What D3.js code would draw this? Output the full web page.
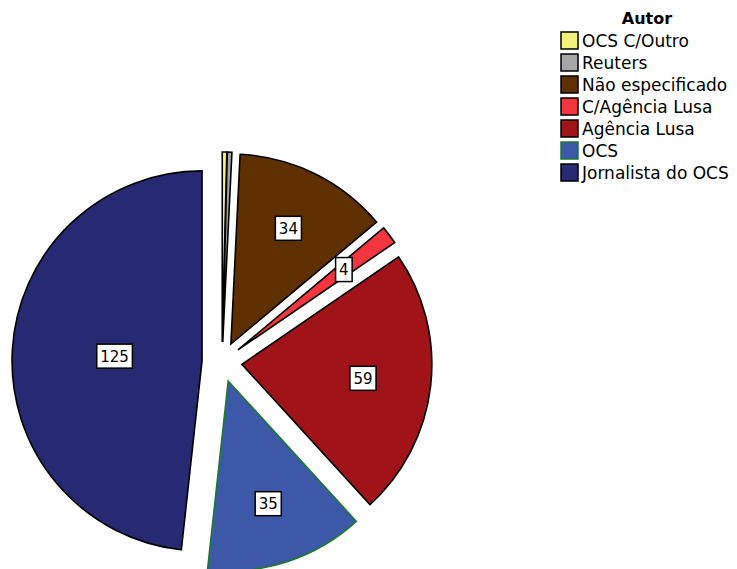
<!DOCTYPE html>
<html>
<head>
<meta charset="utf-8">
<script src="https://cdn.jsdelivr.net/npm/d3@7"></script>
<style>
  html, body { margin: 0; padding: 0; background: #fff; }
  svg { display: block; }
</style>
</head>
<body>
<svg id="chart" width="737" height="569"></svg>
<script>
const categories = ["OCS C/Outro", "Reuters", "Não especificado", "C/Agência Lusa", "Agência Lusa", "OCS", "Jornalista do OCS"];
const values = [1, 1, 34, 4, 59, 35, 125];
const showLabel = [false, false, true, true, true, true, true];
const fillColors = ["#f4f07e", "#a6a6a6", "#5e3000", "#f2353f", "#a01419", "#3e58a9", "#272a72"];
const strokeColors = ["#000", "#000", "#000", "#000", "#000", "#1d7a2a", "#000"];
const legendTitle = "Autor";

const svg = d3.select("#chart");
const cx = 222, cy = 362, R = 190, explode = 20;

const data = categories.map((c, i) => ({ name: c, value: values[i], i }));
const pie = d3.pie().value(d => d.value).sort(null).startAngle(0).endAngle(2 * Math.PI);
const arcs = pie(data);
const arc = d3.arc().innerRadius(0).outerRadius(R);

const g = svg.append("g").attr("transform", `translate(${cx},${cy})`);

const slices = g.selectAll("g.slice").data(arcs).enter().append("g")
  .attr("class", "slice")
  .attr("transform", d => {
    const m = (d.startAngle + d.endAngle) / 2;
    return `translate(${explode * Math.sin(m)},${-explode * Math.cos(m)})`;
  });

slices.append("path")
  .attr("d", arc)
  .attr("fill", d => fillColors[d.data.i])
  .attr("stroke", d => strokeColors[d.data.i])
  .attr("stroke-width", 1.6)
  .attr("stroke-linejoin", "miter");

// labels at the slice centroid
const labelG = slices.filter(d => showLabel[d.data.i]).append("g")
  .attr("transform", d => {
    const m = (d.startAngle + d.endAngle) / 2;
    const a = (d.endAngle - d.startAngle) / 2;
    const dist = 1.05 * 2 * R * Math.sin(a) / (3 * a);
    return `translate(${dist * Math.sin(m)},${-dist * Math.cos(m)})`;
  });

labelG.each(function(d) {
  const sel = d3.select(this);
  const t = sel.append("text")
    .attr("text-anchor", "middle")
    .attr("dy", "0.36em")
    .attr("font-family", "DejaVu Sans, sans-serif")
    .attr("font-size", 15)
    .attr("fill", "#000")
    .text(d.data.value);
  const w = t.node().getComputedTextLength() + 7;
  const h = 24;
  sel.insert("rect", "text")
    .attr("x", -w / 2).attr("y", -h / 2)
    .attr("width", w).attr("height", h)
    .attr("fill", "#fff")
    .attr("stroke", "#000")
    .attr("stroke-width", 1.5);
});

// legend
const lg = svg.append("g").attr("transform", "translate(560,0)");
lg.append("text")
  .attr("x", 87).attr("y", 24)
  .attr("text-anchor", "middle")
  .attr("font-family", "DejaVu Sans, sans-serif")
  .attr("font-weight", "bold")
  .attr("font-size", 16)
  .text(legendTitle);

const items = lg.selectAll("g.item").data(data).enter().append("g")
  .attr("class", "item")
  .attr("transform", (d, i) => `translate(0,${40.5 + 22 * i})`);
items.append("rect")
  .attr("x", 1).attr("y", -8.5)
  .attr("width", 17).attr("height", 17)
  .attr("fill", d => fillColors[d.i])
  .attr("stroke", d => d.i === 5 ? "#1d7a2a" : "#000")
  .attr("stroke-width", 1.5);
items.append("text")
  .attr("x", 22).attr("y", 0)
  .attr("dy", "0.36em")
  .attr("font-family", "DejaVu Sans, sans-serif")
  .attr("font-size", 17)
  .attr("fill", "#000")
  .text(d => d.name);
</script>
</body>
</html>
